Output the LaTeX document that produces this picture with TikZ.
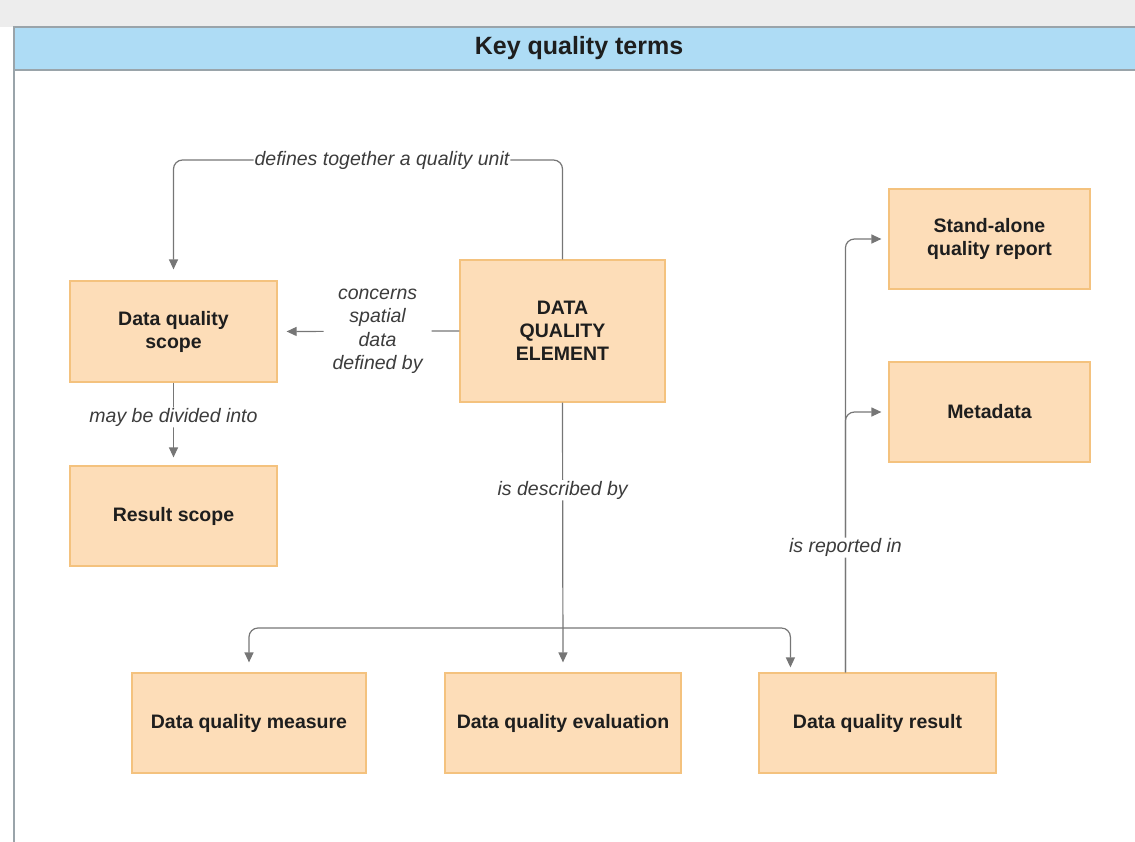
\documentclass[tikz,border=0pt]{standalone}
\usepackage{fontspec}
\setmainfont{Liberation Sans}
\usetikzlibrary{arrows.meta,calc}
\definecolor{boxfill}{HTML}{FDDDB8}
\definecolor{boxline}{HTML}{F4C27E}
\definecolor{headfill}{HTML}{AEDCF5}
\definecolor{framegray}{HTML}{9AA4AA}
\definecolor{conngray}{HTML}{767676}
\definecolor{lbltext}{HTML}{3C3C3C}
\definecolor{termtext}{HTML}{1E1E1E}
\begin{document}
\begin{tikzpicture}[x=1pt,y=-1pt,
  term/.style={draw=boxline, fill=boxfill, line width=1.2pt, inner sep=0pt, align=center,
    font=\fontsize{19.5}{23}\selectfont\bfseries, text=termtext},
  conn/.style={draw=conngray, line width=1.2pt, -{Triangle[length=10pt,width=9pt]}, rounded corners=9pt},
  lbl/.style={fill=white, inner sep=1pt, font=\fontsize{19.5}{23.5}\selectfont\itshape, text=lbltext, align=center}]
\useasboundingbox (0,0) rectangle (1135,841);
\clip (0,0) rectangle (1135,841);
% background and frame
\fill[gray!14] (0,0) rectangle (1135,27);
\draw[framegray, line width=1.2pt] (14,70) -- (14,845);
\draw[framegray, fill=headfill, line width=1.2pt] (14,27) rectangle (1145,70);
\node[font=\fontsize{25}{30}\selectfont\bfseries, text=termtext] (title) at (579,48.5) {Key quality terms};
% terms
\node[term, minimum width=207pt, minimum height=101pt] (scope) at (173.5,331.5) {Data quality\\scope};
\node[term, minimum width=207pt, minimum height=100pt] (rscope) at (173.5,516) {Result scope};
\node[term, minimum width=205pt, minimum height=142pt] (dqe) at (562.5,331) {DATA\\QUALITY\\ELEMENT};
\node[term, minimum width=201pt, minimum height=100pt] (sa) at (989.5,239) {Stand-alone\\quality report};
\node[term, minimum width=201pt, minimum height=100pt] (meta) at (989.5,412) {Metadata};
\node[term, minimum width=234pt, minimum height=100pt] (meas) at (249,723) {Data quality measure};
\node[term, minimum width=236pt, minimum height=100pt] (eval) at (563,723) {Data quality evaluation};
\node[term, minimum width=237pt, minimum height=100pt] (res) at (877.5,723) {Data quality result};
% connectors
\draw[conn, shorten >=11pt] (dqe.north) -- (dqe.north |- 0,160)
  -- node[lbl, pos=0.464]{defines together a quality unit} (scope.north |- 0,160) -- (scope.north);
\draw[conn, shorten >=9pt] (dqe.west) -- node[lbl, pos=0.45, inner xsep=9pt, inner ysep=1pt]{concerns\\spatial\\data\\defined by} (scope.east);
\draw[conn, shorten >=8pt] (scope.south) -- node[lbl, pos=0.42]{may be divided into} (rscope.north);
\draw[conn, shorten >=10pt] (dqe.south) -- node[lbl, pos=0.325]{is described by} (eval.north);
\coordinate (split) at (563,628);
\coordinate (resin) at ($(res.north west)+(32,0)$);
\coordinate (resout) at ($(res.north west)+(87,0)$);
\draw[conn, shorten >=10pt] (split) -| (meas.north);
\draw[conn, shorten >=5pt] (split) -| (resin);
\draw[conn, shorten >=7pt] (resout) |- (meta.west);
\draw[conn, shorten >=7pt] (resout) |- node[lbl, pos=0.144]{is reported in} (sa.west);
\end{tikzpicture}
\end{document}
